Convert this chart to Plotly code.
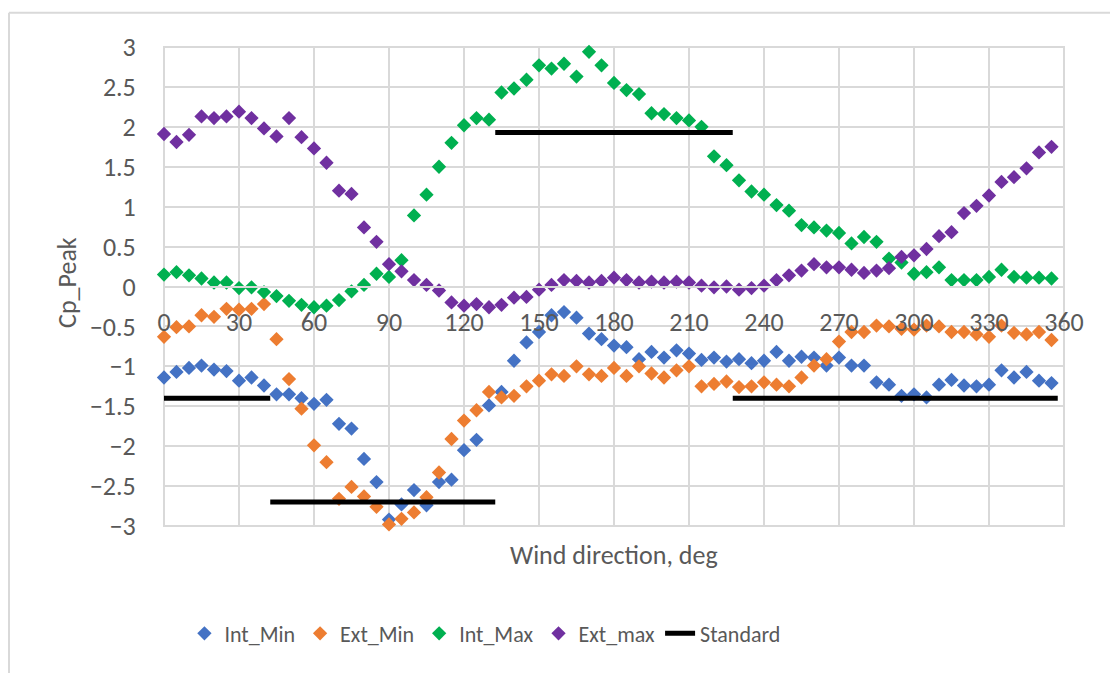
import plotly.graph_objects as go

# Wind direction (deg) for every measured case
wind_dir = [0, 5, 10, 15, 20, 25, 30, 35, 40, 45, 50, 55, 60, 65, 70, 75, 80, 85,
            90, 95, 100, 105, 110, 115, 120, 125, 130, 135, 140, 145, 150, 155, 160, 165, 170, 175,
            180, 185, 190, 195, 200, 205, 210, 215, 220, 225, 230, 235, 240, 245, 250, 255, 260, 265,
            270, 275, 280, 285, 290, 295, 300, 305, 310, 315, 320, 325, 330, 335, 340, 345, 350, 355]

int_min = [-1.14, -1.07, -1.02, -0.99, -1.04, -1.06, -1.18, -1.14, -1.24, -1.35, -1.35, -1.40,
           -1.47, -1.42, -1.72, -1.78, -2.16, -2.45, -2.92, -2.73, -2.55, -2.74, -2.45, -2.42,
           -2.05, -1.92, -1.49, -1.32, -0.93, -0.70, -0.57, -0.36, -0.32, -0.39, -0.59, -0.66,
           -0.74, -0.76, -0.91, -0.82, -0.89, -0.80, -0.84, -0.92, -0.89, -0.94, -0.91, -0.96,
           -0.93, -0.82, -0.93, -0.88, -0.89, -0.99, -0.89, -0.99, -0.99, -1.20, -1.23, -1.37,
           -1.35, -1.39, -1.23, -1.17, -1.24, -1.25, -1.23, -1.05, -1.14, -1.07, -1.18, -1.21]

ext_min = [-0.63, -0.51, -0.50, -0.36, -0.38, -0.28, -0.29, -0.28, -0.22, -0.66, -1.16, -1.53,
           -1.99, -2.20, -2.66, -2.51, -2.63, -2.76, -2.98, -2.91, -2.83, -2.64, -2.33, -1.91,
           -1.68, -1.55, -1.32, -1.39, -1.37, -1.25, -1.18, -1.10, -1.12, -1.00, -1.10, -1.12,
           -1.02, -1.12, -1.00, -1.09, -1.14, -1.05, -1.00, -1.25, -1.22, -1.19, -1.26, -1.25,
           -1.20, -1.23, -1.25, -1.14, -0.99, -0.91, -0.69, -0.57, -0.57, -0.49, -0.50, -0.53,
           -0.54, -0.49, -0.50, -0.57, -0.57, -0.60, -0.63, -0.49, -0.58, -0.60, -0.57, -0.67]

int_max = [0.15, 0.18, 0.14, 0.10, 0.05, 0.05, -0.02, -0.01, -0.07, -0.12, -0.18, -0.23,
           -0.26, -0.24, -0.17, -0.06, 0.02, 0.16, 0.12, 0.33, 0.89, 1.15, 1.50, 1.80,
           2.02, 2.11, 2.09, 2.43, 2.48, 2.59, 2.77, 2.73, 2.79, 2.63, 2.94, 2.77,
           2.55, 2.46, 2.41, 2.17, 2.16, 2.11, 2.08, 2.00, 1.63, 1.52, 1.33, 1.19,
           1.15, 1.02, 0.95, 0.77, 0.74, 0.70, 0.67, 0.54, 0.62, 0.56, 0.35, 0.30,
           0.16, 0.18, 0.24, 0.08, 0.08, 0.08, 0.12, 0.21, 0.12, 0.11, 0.11, 0.10]

ext_max = [1.91, 1.81, 1.90, 2.13, 2.11, 2.13, 2.19, 2.11, 1.98, 1.88, 2.11, 1.87,
           1.73, 1.55, 1.20, 1.16, 0.74, 0.56, 0.28, 0.19, 0.08, 0.02, -0.05, -0.20,
           -0.24, -0.22, -0.26, -0.23, -0.14, -0.13, -0.04, 0.02, 0.08, 0.07, 0.05, 0.07,
           0.11, 0.08, 0.05, 0.06, 0.05, 0.06, 0.05, 0.01, -0.01, 0.00, -0.04, -0.02,
           0.01, 0.08, 0.14, 0.20, 0.28, 0.24, 0.24, 0.21, 0.17, 0.20, 0.23, 0.37,
           0.39, 0.47, 0.63, 0.68, 0.92, 1.01, 1.14, 1.31, 1.37, 1.48, 1.68, 1.75]

# Code (standard) peak coefficients, one flat segment per direction sector
std_dir = [-2.5, 42.5, None, 42.5, 132.5, None, 132.5, 227.5, None, 227.5, 357.5]
std_cp = [-1.40, -1.40, None, -2.70, -2.70, None, 1.93, 1.93, None, -1.40, -1.40]

x_ticks = [0, 30, 60, 90, 120, 150, 180, 210, 240, 270, 300, 330, 360]

FONT = "Calibri, Carlito, Lato, sans-serif"
TEXT_GRAY = "#595959"
GRID = "#d9d9d9"

fig = go.Figure()

series = [
    ("Int_Min", int_min, "#4472C4"),
    ("Ext_Min", ext_min, "#ED7D31"),
    ("Int_Max", int_max, "#00B050"),
    ("Ext_max", ext_max, "#7030A0"),
]
for name, vals, color in series:
    fig.add_trace(go.Scatter(
        x=wind_dir, y=vals, name=name, mode="markers", cliponaxis=False,
        marker=dict(symbol="diamond", size=11, color=color, line=dict(width=0)),
    ))

fig.add_trace(go.Scatter(
    x=std_dir, y=std_cp, name="Standard", mode="lines",
    line=dict(color="black", width=5), connectgaps=False,
))

fig.update_layout(
    width=1110, height=673,
    margin=dict(l=164, r=46, t=47, b=147),
    paper_bgcolor="white", plot_bgcolor="white",
    font=dict(family=FONT, size=26, color=TEXT_GRAY),
    showlegend=True,
    legend=dict(
        orientation="h", x=0.0227, y=-0.2245, xanchor="left", yanchor="middle",
        font=dict(family=FONT, size=22, color=TEXT_GRAY),
        itemwidth=30, bgcolor="rgba(0,0,0,0)",
    ),
    xaxis=dict(
        range=[0, 360], tickvals=x_ticks, ticktext=[str(t) for t in x_ticks],
        showgrid=True, gridcolor=GRID, gridwidth=2, zeroline=False,
        anchor="free", position=0.5, showline=True, linecolor=GRID, linewidth=2,
        ticks="outside", ticklen=12, tickcolor="rgba(0,0,0,0)",
        tickfont=dict(family=FONT, size=26, color=TEXT_GRAY),
    ),
    yaxis=dict(
        range=[-3, 3], dtick=0.5, tickformat="~g",
        showgrid=True, gridcolor=GRID, gridwidth=2, zeroline=False,
        showline=False, ticks="outside", ticklen=22, tickcolor="rgba(0,0,0,0)",
        tickfont=dict(family=FONT, size=26, color=TEXT_GRAY),
    ),
    shapes=[
        # plot-area frame
        dict(type="rect", xref="paper", yref="paper", x0=0, x1=1, y0=0, y1=1,
             line=dict(color=GRID, width=2), layer="below"),
        # chart-area frame (left and top edges)
        dict(type="line", xref="paper", yref="paper", x0=-0.1722, x1=1.06, y0=1.0714, y1=1.0714,
             line=dict(color=GRID, width=2)),
        dict(type="line", xref="paper", yref="paper", x0=-0.1722, x1=-0.1722, y0=-0.32, y1=1.0714,
             line=dict(color=GRID, width=2)),
    ],
    annotations=[
        dict(text="Wind direction, deg", xref="paper", yref="paper", x=0.5, y=-0.0595,
             xanchor="center", yanchor="middle", showarrow=False,
             font=dict(family=FONT, size=26, color=TEXT_GRAY)),
        dict(text="Cp_Peak", xref="paper", yref="paper", x=-0.1072, y=0.5086,
             xanchor="center", yanchor="middle", showarrow=False, textangle=-90,
             font=dict(family=FONT, size=26, color=TEXT_GRAY)),
    ],
)

fig.write_html("out.html")
